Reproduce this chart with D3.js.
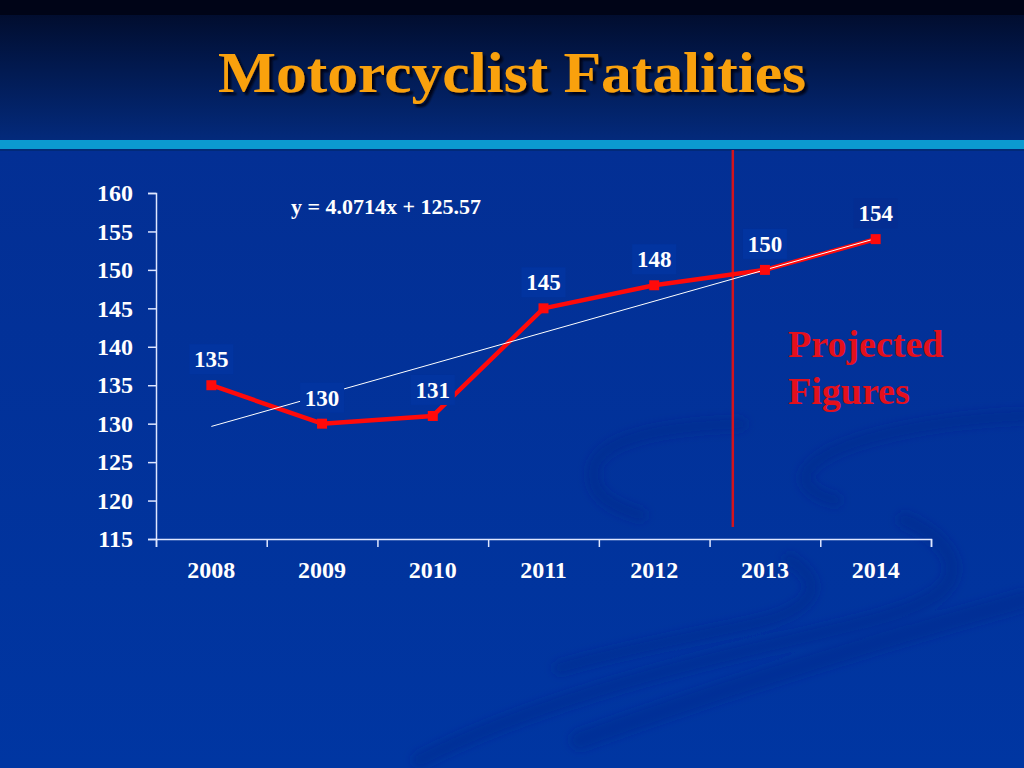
<!DOCTYPE html>
<html>
<head>
<meta charset="utf-8">
<script src="https://cdn.jsdelivr.net/npm/d3@7"></script>
<style>
html,body{margin:0;padding:0;background:#0035a0;}
svg{display:block;}
</style>
</head>
<body>
<script>
// ---- data ----
const years = ["2008","2009","2010","2011","2012","2013","2014"];
const fatalities = [135,130,131,145,148,150,154];
const yTicks = [115,120,125,130,135,140,145,150,155,160];
const trendSlope = 4.0714;
const trendIntercept = 125.57;
const projectedDivider = 5.71; // position (1-based category index) of the projected-figures divider
const titleText = "Motorcyclist Fatalities";
const projectedText = ["Projected","Figures"];

(function(){
const W = 1024, H = 768;
const svg = d3.select("body").append("svg").attr("width", W).attr("height", H);
const defs = svg.append("defs");

const hg = defs.append("linearGradient").attr("id","hdr").attr("x1",0).attr("y1",0).attr("x2",0).attr("y2",1);
hg.append("stop").attr("offset","0%").attr("stop-color","#010a26");
hg.append("stop").attr("offset","100%").attr("stop-color","#032a7c");
const bg = defs.append("linearGradient").attr("id","bgm").attr("x1",0).attr("y1",0).attr("x2",0).attr("y2",1);
bg.append("stop").attr("offset","0%").attr("stop-color","#032f94");
bg.append("stop").attr("offset","100%").attr("stop-color","#0036a2");
defs.append("filter").attr("id","blur").append("feGaussianBlur").attr("stdDeviation",4);
const sh = defs.append("filter").attr("id","tshadow").attr("x","-10%").attr("y","-20%").attr("width","130%").attr("height","150%");
sh.append("feDropShadow").attr("dx",3).attr("dy",3).attr("stdDeviation",1.2).attr("flood-color","#000010").attr("flood-opacity",0.9);

// background
svg.append("rect").attr("x",0).attr("y",150).attr("width",W).attr("height",H-150).attr("fill","url(#bgm)");
svg.append("rect").attr("x",0).attr("y",0).attr("width",W).attr("height",141).attr("fill","url(#hdr)");
svg.append("rect").attr("x",0).attr("y",0).attr("width",W).attr("height",15).attr("fill","#000417");
svg.append("rect").attr("x",0).attr("y",140).attr("width",W).attr("height",9).attr("fill","#0b9ad0");
svg.append("rect").attr("x",0).attr("y",149).attr("width",W).attr("height",2).attr("fill","#022a78");

// faint decorative swirls
const sw = svg.append("g").attr("fill","none").attr("stroke","#00288a").attr("stroke-opacity",0.4)
  .attr("stroke-linecap","round").attr("filter","url(#blur)");
sw.append("path").attr("stroke-width",14)
  .attr("d","M740,424 C660,426 600,440 594,468 C590,495 610,505 640,515");
sw.append("path").attr("stroke-width",14)
  .attr("d","M1024,416 C930,420 830,440 808,470 C800,485 815,495 835,500");
sw.append("path").attr("stroke-width",16)
  .attr("d","M905,520 C950,540 965,570 940,592 C900,625 760,640 600,690 C520,715 470,735 420,760");
sw.append("path").attr("stroke-width",14)
  .attr("d","M790,560 C830,585 810,610 760,622 C700,636 620,650 560,668");
sw.append("path").attr("stroke-width",20)
  .attr("d","M1024,600 C880,640 720,690 580,740");

// title
svg.append("text").attr("x",512).attr("y",92).attr("text-anchor","middle")
  .attr("font-family","'Liberation Serif','Times New Roman',serif").attr("font-weight","bold")
  .attr("font-size",58).attr("fill","#f9a10e").attr("filter","url(#tshadow)")
  .attr("textLength",588).attr("lengthAdjust","spacingAndGlyphs")
  .text(titleText);

// scales
const pLeft = 156, pRight = 931, pTop = 193, pBottom = 539;
const xBand = d3.scaleBand().domain(years).range([pLeft,pRight]).padding(0);
const xi = d3.scaleLinear().domain([0.5, years.length + 0.5]).range([pLeft,pRight]);
const y = d3.scaleLinear().domain([115,160]).range([pBottom,pTop]);
const cx = d => xBand(d) + xBand.bandwidth()/2;

const font = "'Liberation Serif','Times New Roman',serif";

// y axis
const ya = svg.append("g").attr("transform",`translate(${pLeft},0)`)
  .call(d3.axisLeft(y).tickValues(yTicks).tickSize(8).tickPadding(15).tickFormat(d3.format("d")));
ya.select(".domain").attr("stroke","#dfe6ff").attr("stroke-width",1.5);
ya.selectAll(".tick line").attr("stroke","#dfe6ff").attr("stroke-width",1.5);
ya.selectAll(".tick text").attr("fill","#ffffff").attr("font-family",font).attr("font-weight","bold").attr("font-size",24);

// x axis: tick marks at category boundaries
const boundaries = d3.range(0.5, years.length + 1, 1);
const xt = svg.append("g").attr("transform",`translate(0,${pBottom})`)
  .call(d3.axisBottom(xi).tickValues(boundaries).tickSize(8).tickFormat(""));
xt.select(".domain").attr("stroke","#dfe6ff").attr("stroke-width",1.5);
xt.selectAll(".tick line").attr("stroke","#dfe6ff").attr("stroke-width",1.5);
const xl = svg.append("g").attr("transform",`translate(0,${pBottom})`)
  .call(d3.axisBottom(xBand).tickSize(0).tickPadding(22));
xl.select(".domain").remove();
xl.selectAll(".tick text").attr("fill","#ffffff").attr("font-family",font).attr("font-weight","bold").attr("font-size",24);

// equation
svg.append("text").attr("x",291).attr("y",214)
  .attr("font-family",font).attr("font-weight","bold").attr("font-size",22).attr("fill","#ffffff")
  .text(`y = ${trendSlope}x + ${trendIntercept}`);

// divider
svg.append("line").attr("x1",xi(projectedDivider)).attr("x2",xi(projectedDivider))
  .attr("y1",150).attr("y2",527).attr("stroke","#d4141c").attr("stroke-width",2.5);

// data line
const pts = years.map((yr,i)=>({yr, v:fatalities[i]}));
svg.append("path").datum(pts)
  .attr("fill","none").attr("stroke","#ff0a0a").attr("stroke-width",4.5).attr("stroke-linejoin","round")
  .attr("d", d3.line().x(d=>cx(d.yr)).y(d=>y(d.v)));

// trend line
const trend = [1, years.length].map(i => ({i, v: trendSlope*i + trendIntercept}));
svg.append("path").datum(trend).attr("fill","none").attr("stroke","#ffffff").attr("stroke-width",1)
  .attr("d", d3.line().x(d=>xi(d.i)).y(d=>y(d.v)));

// markers
svg.selectAll("rect.mk").data(pts).enter().append("rect").attr("class","mk")
  .attr("x",d=>cx(d.yr)-5).attr("y",d=>y(d.v)-5).attr("width",10).attr("height",10).attr("fill","#ff0a0a");

// data labels with background boxes
const lg = svg.selectAll("g.lbl").data(pts).enter().append("g").attr("class","lbl")
  .attr("transform",d=>`translate(${cx(d.yr)},${y(d.v)-26})`);
lg.append("rect").attr("x",-22).attr("y",-15).attr("width",44).attr("height",30)
  .attr("fill",(d,i)=> i===years.length-1 ? "#042d92" : "#0234a0");
lg.append("text").attr("text-anchor","middle").attr("dy","0.35em")
  .attr("font-family",font).attr("font-weight","bold").attr("font-size",23).attr("fill","#ffffff")
  .text(d=>d.v);

// projected figures text
const pt = svg.append("text").attr("font-family",font).attr("font-weight","bold")
  .attr("font-size",38).attr("fill","#e3101c");
projectedText.forEach((t,i)=>{
  pt.append("tspan").attr("x",788).attr("y",357 + i*47).text(t);
});
})();
</script>
</body>
</html>
